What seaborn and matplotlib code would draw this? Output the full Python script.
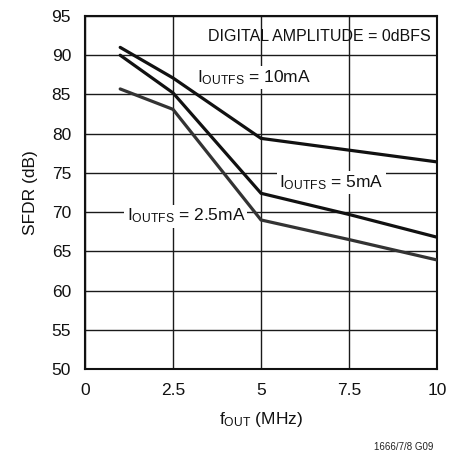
import numpy as np
import pandas as pd
import matplotlib
matplotlib.use("Agg")
import matplotlib.pyplot as plt
import seaborn as sns

# SFDR vs output frequency for three full-scale currents
freq_mhz = [1.0, 2.5, 5.0, 7.5, 10.0]
sfdr_10ma = [91.0, 87.1, 79.4, 77.9, 76.4]
sfdr_5ma = [90.0, 85.2, 72.4, 69.7, 66.8]
sfdr_2p5ma = [85.7, 83.1, 69.0, 66.5, 63.9]
series_names = ["10mA", "5mA", "2.5mA"]
series_colors = ["#111111", "#111111", "#333333"]

x_ticks = [0, 2.5, 5, 7.5, 10]
x_tick_labels = ["0", "2.5", "5", "7.5", "10"]
y_ticks = list(range(50, 100, 5))

df = pd.DataFrame({
    "freq": freq_mhz * 3,
    "sfdr": sfdr_10ma + sfdr_5ma + sfdr_2p5ma,
    "series": sum([[n] * len(freq_mhz) for n in series_names], []),
})

sns.set_theme(style="white")
font = "Liberation Sans"
plt.rcParams["font.family"] = [font, "DejaVu Sans"]
plt.rcParams["mathtext.fontset"] = "custom"
plt.rcParams["mathtext.rm"] = font
plt.rcParams["mathtext.it"] = font

fig = plt.figure(figsize=(4.68, 4.51), dpi=100)
ax = fig.add_axes([85 / 468, 1 - 369 / 451, (437 - 85) / 468, (369 - 16) / 451])

sns.lineplot(data=df, x="freq", y="sfdr", hue="series", hue_order=series_names,
             palette=series_colors, linewidth=2.3, legend=False, ax=ax, zorder=4,
             solid_joinstyle="miter")

ax.set_xlim(0, 10)
ax.set_ylim(50, 95)
ax.set_xticks(x_ticks)
ax.set_xticklabels(x_tick_labels)
ax.set_yticks(y_ticks)
ax.grid(True, color="#1a1a1a", linewidth=1.0, zorder=1)
ax.set_axisbelow(True)
ax.tick_params(axis="both", length=0, labelsize=12.5, colors="#111111")
ax.tick_params(axis="y", pad=10)
ax.tick_params(axis="x", pad=10)
for s in ax.spines.values():
    s.set_visible(True)
    s.set_color("#111111")
    s.set_linewidth(1.5)

ax.set_xlabel(r"f$_{\mathrm{OUT}}$ (MHz)", fontsize=12.5, color="#111111", labelpad=9)
ax.set_ylabel("SFDR (dB)", fontsize=12.5, color="#111111", labelpad=10)

box = dict(facecolor="white", edgecolor="none", pad=1.5)
ax.text(9.81, 91.85, "DIGITAL AMPLITUDE = 0dBFS", ha="right", va="baseline",
        fontsize=11.5, color="#111111", zorder=3)
ax.text(3.18, 86.6, r"I$_{\mathrm{OUTFS}}$ = 10mA", ha="left", va="baseline",
        fontsize=12.5, color="#111111", bbox=box, zorder=3)
ax.text(5.52, 73.2, r"I$_{\mathrm{OUTFS}}$ = 5mA", ha="left", va="baseline",
        fontsize=12.5, color="#111111", bbox=box, zorder=3)
ax.text(1.18, 68.9, r"I$_{\mathrm{OUTFS}}$ = 2.5mA", ha="left", va="baseline",
        fontsize=12.5, color="#111111", bbox=box, zorder=3)

fig.text(433 / 468, 1 - 447 / 451, "1666/7/8 G09", ha="right", va="center",
         fontsize=7, color="#222222")

fig.savefig("out.png", dpi=100, facecolor="white")
